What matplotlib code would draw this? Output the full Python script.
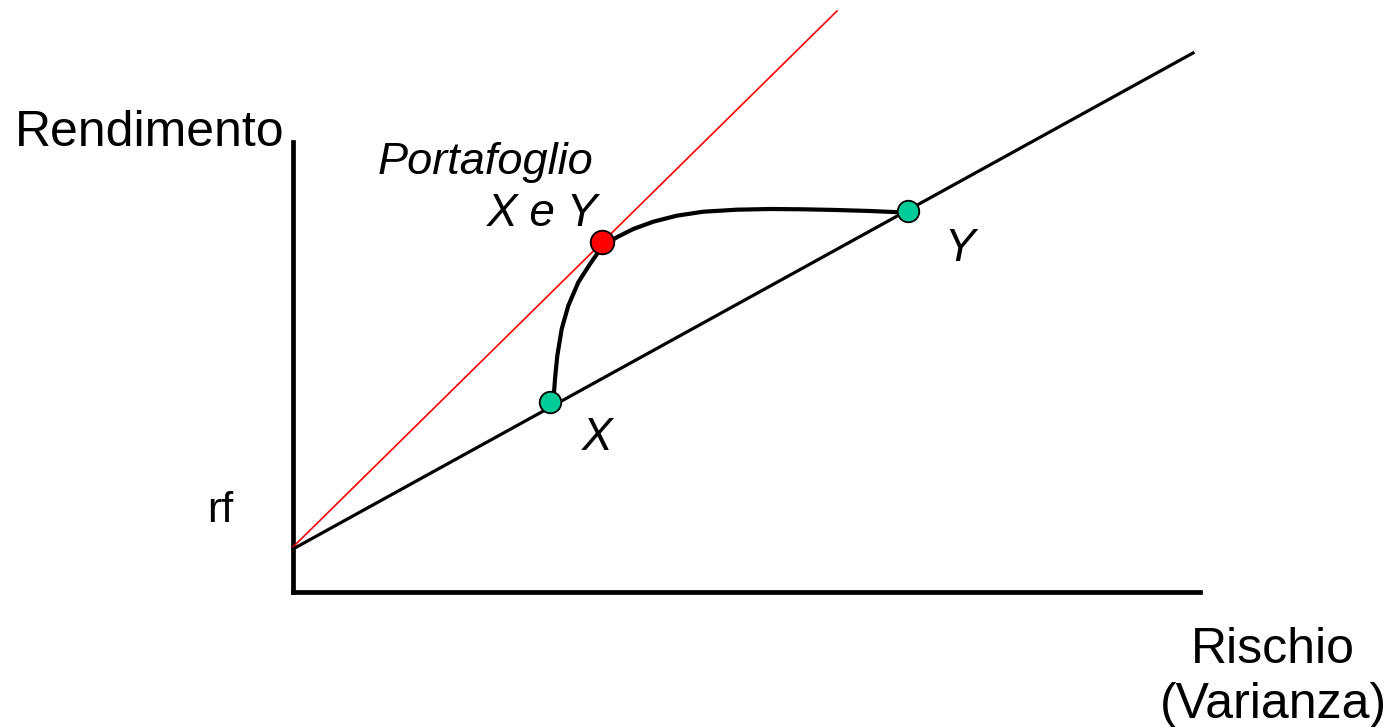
import matplotlib
matplotlib.use("Agg")
import matplotlib.pyplot as plt

# ---- data (risk, return) in chart units; origin at axis corner ----
axis_x_end = 907
axis_y_end = 450

cml_black_x = [0, 900]
cml_black_y = [43, 539]

cml_red_x = [0, 544]
cml_red_y = [45, 581]

curve_x = [260.3, 262.0, 264.3, 268.7, 275.3, 285.3, 297.0, 308.7, 323.7, 340.3,
           360.3, 383.7, 410.3, 443.7, 477.0, 510.3, 543.7, 577.0, 607.0]
curve_y = [189.7, 213.0, 236.3, 263.0, 286.3, 309.7, 328.0, 344.7, 354.7, 363.0,
           370.3, 376.3, 380.3, 382.3, 383.0, 382.7, 382.0, 381.0, 379.7]

assets_x = [257, 615]      # X, Y
assets_y = [190, 381]
tangent_x = [309]          # Portafoglio X e Y
tangent_y = [350]

plt.rcParams['font.family'] = ['Liberation Sans', 'DejaVu Sans']

fig = plt.figure(figsize=(13.92, 7.27), dpi=100)
ax = fig.add_axes([0, 0, 1, 1])
ax.set_xlim(-293, 1392 - 293)
ax.set_ylim(592 - 727, 592)
ax.axis('off')

# axes
ax.plot([0, 0], [0, axis_y_end], color='black', lw=3.4, solid_capstyle='projecting')
ax.plot([0, axis_x_end], [0, 0], color='black', lw=3.4, solid_capstyle='projecting')

# lines
ax.plot(cml_red_x, cml_red_y, color='#ff0000', lw=1.2)
ax.plot(cml_black_x, cml_black_y, color='black', lw=2.3)
ax.plot(curve_x, curve_y, color='black', lw=3.0, solid_joinstyle='round')

# points
ax.plot(assets_x, assets_y, 'o', ms=15.5, mfc='#00cc99', mec='black', mew=1.3, zorder=5)
ax.plot(tangent_x, tangent_y, 'o', ms=17, mfc='#ff0000', mec='black', mew=1.3, zorder=5)

# text
fs = 36
ax.text(-278, 446, 'Rendimento', fontsize=fs, ha='left', va='baseline')
ax.text(980, -71, 'Rischio', fontsize=fs, ha='center', va='baseline')
ax.text(980, -126, '(Varianza)', fontsize=fs, ha='center', va='baseline')
ax.text(85, 418, 'Portafoglio', fontsize=32.5, style='italic', ha='left', va='baseline')
ax.text(305, 366, 'X e Y', fontsize=33, style='italic', ha='right', va='baseline')
ax.text(651, 331, 'Y', fontsize=33, style='italic', ha='left', va='baseline')
ax.text(289, 142, 'X', fontsize=33, style='italic', ha='left', va='baseline')
ax.text(-86, 70, 'rf', fontsize=31, ha='left', va='baseline')

fig.savefig('out.png', dpi=100, facecolor='white')
